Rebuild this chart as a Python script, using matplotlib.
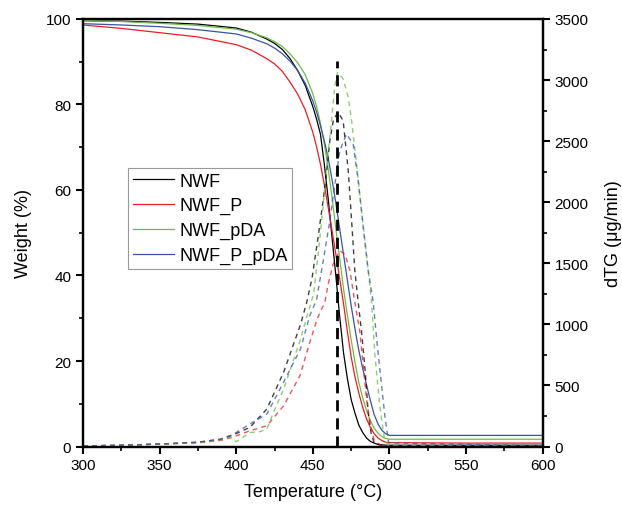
import matplotlib.pyplot as plt
from matplotlib.ticker import MultipleLocator

plt.rcParams['font.family'] = ['Liberation Sans', 'DejaVu Sans']

# TG curves (weight %)
temp_tg = [300, 325, 350, 375, 400, 410, 420, 425, 430, 435, 440, 445, 450, 452.5, 455, 457.5,
           460, 462.5, 465, 467.5, 470, 472.5, 475, 477.5, 480, 482.5, 485, 487.5, 490, 492.5,
           495, 497.5, 500, 550, 600]
tg_nwf = [99.6, 99.5, 99.2, 98.8, 97.9, 96.9, 95.3, 94.3, 92.9, 90.8, 88.0, 84.5, 79.5, 76.5,
          73.0, 66.0, 58.0, 49.0, 40.0, 30.5, 22.0, 16.0, 11.0, 7.8, 5.0, 3.3, 2.0, 1.2, 0.8,
          0.5, 0.4, 0.3, 0.3, 0.3, 0.3]
tg_nwf_p = [98.6, 97.8, 96.8, 95.8, 94.0, 92.7, 90.7, 89.5, 87.8, 85.3, 82.5, 78.8, 73.5, 70.0,
            66.0, 61.2, 56.0, 50.6, 45.0, 39.3, 33.5, 27.0, 21.0, 16.3, 12.5, 9.2, 6.5, 4.5,
            3.0, 2.0, 1.4, 1.0, 0.9, 0.8, 0.8]
tg_nwf_pda = [99.7, 99.4, 99.0, 98.5, 97.6, 96.8, 95.6, 94.7, 93.6, 91.9, 89.8, 87.0, 82.5,
              79.5, 75.5, 70.8, 65.0, 58.3, 51.0, 44.0, 37.0, 30.8, 25.0, 19.7, 15.0, 11.4, 8.5,
              6.1, 4.3, 3.1, 2.3, 1.9, 1.7, 1.7, 1.7]
tg_nwf_p_pda = [98.9, 98.6, 98.2, 97.5, 96.5, 95.5, 94.2, 93.2, 91.9, 90.2, 88.0, 85.0, 80.8,
                78.2, 75.0, 71.5, 67.5, 62.5, 57.0, 51.0, 45.0, 39.0, 33.0, 27.5, 22.5, 18.3,
                14.5, 10.8, 7.5, 5.3, 3.8, 3.0, 2.6, 2.6, 2.6]

# dTG curves (ug/min)
temp_d_nwf = [300, 325, 350, 375, 390, 398, 409, 420, 431, 442, 446, 449.5, 453.5, 457.9, 461.1,
              463.5, 466.5, 469.8, 473.1, 475.3, 477.4, 479.6, 481.8, 484, 486, 488, 490, 495, 600]
d_nwf = [5, 10, 20, 35, 60, 95, 157, 307, 610, 1000, 1180, 1380, 1720, 2122, 2504,
         2680, 2736, 2667, 2258, 1849, 1440, 1183, 937, 640, 300, 110, 30, 5, 5]
temp_d_p = [300, 325, 350, 375, 390, 398, 409, 420, 431, 441.6, 448, 453, 457.9, 460, 463.3,
            467.6, 470.9, 474.2, 477.4, 480.7, 482.9, 485, 487.2, 490, 495, 600]
d_p = [5, 10, 20, 30, 50, 78, 129, 170, 334, 580, 853, 1050, 1183, 1330, 1494,
       1603, 1576, 1440, 1183, 937, 661, 389, 200, 50, 5, 5]
temp_d_pda = [300, 325, 350, 375, 390, 396, 400, 405, 409, 415, 420, 425, 431, 442, 447, 450.5,
              453.5, 456.8, 459.5, 462.2, 464.3, 466.1, 469.8, 473.1, 475.3, 478.5, 481.8, 485,
              488.3, 490.5, 493.7, 496.5, 499, 600]
d_pda = [5, 10, 20, 30, 55, 75, 40, 80, 114, 120, 143, 300, 471, 880, 1100, 1250,
         1576, 1985, 2350, 2667, 2950, 3063, 3009, 2859, 2667, 2313, 1930, 1576,
         1183, 750, 330, 80, 10, 5]
temp_d_p_pda = [300, 325, 350, 375, 390, 398, 409, 420, 431, 442, 448, 452.4, 456.8, 461.1,
                464.4, 467.6, 472, 476.3, 479.6, 482.9, 486.1, 489.4, 491.5, 494, 497, 499.5, 600]
d_p_pda = [5, 10, 20, 35, 60, 100, 184, 266, 528, 800, 1071, 1200, 1521, 1849,
           2149, 2422, 2558, 2477, 2176, 1795, 1440, 1183, 900, 600, 250, 30, 5]

peak_temp = 466
peak_top = 3160

labels = ['NWF', 'NWF_P', 'NWF_pDA', 'NWF_P_pDA']
colors = ['#000000', '#ed1c24', '#6cbd45', '#3a53a4']

fig = plt.figure(figsize=(6.22, 5.06), dpi=100)
ax = fig.add_axes([0.1334, 0.1156, 0.7391, 0.8449])
ax2 = ax.twinx()

tgs = [tg_nwf, tg_nwf_p, tg_nwf_pda, tg_nwf_p_pda]
handles = []
for tg, c, lab in zip(tgs, colors, labels):
    h, = ax.plot(temp_tg, tg, color=c, lw=0.9, label=lab)
    handles.append(h)

dtgs = [(temp_d_nwf, d_nwf), (temp_d_p, d_p), (temp_d_pda, d_pda), (temp_d_p_pda, d_p_pda)]
for (t, d), c in zip(dtgs, colors):
    ax2.plot(t, d, color=c, lw=1.0, ls=(0, (3.5, 3)), alpha=0.75)

ax2.plot([peak_temp, peak_temp], [0, peak_top], color='black', lw=2, ls=(0, (4, 2.5)))

ax.set_xlim(300, 600)
ax.set_ylim(0, 100)
ax2.set_ylim(0, 3500)

ax.xaxis.set_major_locator(MultipleLocator(50))
ax.xaxis.set_minor_locator(MultipleLocator(25))
ax.yaxis.set_major_locator(MultipleLocator(20))
ax.yaxis.set_minor_locator(MultipleLocator(10))
ax2.yaxis.set_major_locator(MultipleLocator(500))
ax2.yaxis.set_minor_locator(MultipleLocator(250))

for a in (ax, ax2):
    for s in a.spines.values():
        s.set_linewidth(1.6)
    a.tick_params(which='major', direction='out', length=5, width=1.5, labelsize=11)
    a.tick_params(which='minor', direction='out', length=3, width=1.2)

ax.set_xlabel('Temperature (°C)', fontsize=13, labelpad=8)
ax.set_ylabel('Weight (%)', fontsize=13, labelpad=10)
ax2.set_ylabel('dTG (μg/min)', fontsize=13, labelpad=12)

leg = ax2.legend(handles=handles, loc='upper left', bbox_to_anchor=(0.098, 0.651),
                 borderaxespad=0, fontsize=13, handlelength=2.3, fancybox=False,
                 framealpha=1, edgecolor='#999999', labelspacing=0.42, handletextpad=0.3,
                 borderpad=0.25)
leg.get_frame().set_linewidth(0.8)

fig.savefig('out.png', dpi=100)
